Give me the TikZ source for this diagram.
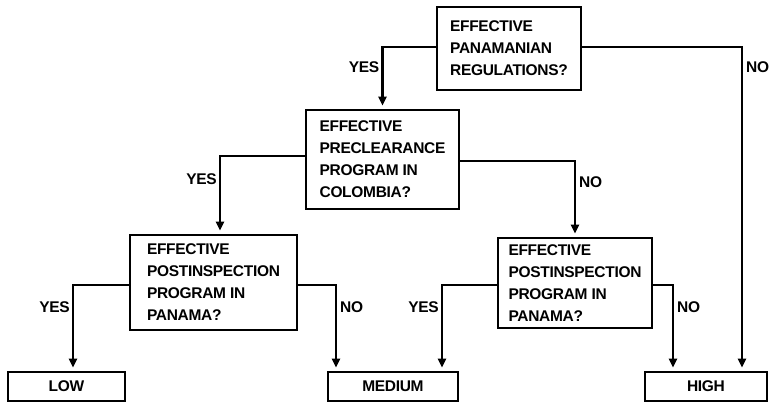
\documentclass[tikz,border=0pt]{standalone}
\usepackage{fontspec}
\setmainfont{Liberation Sans}[LetterSpace=-2.0]
\usetikzlibrary{arrows.meta}

\tikzset{
    boxfont/.style={font=\bfseries\fontsize{15.5}{22}\selectfont},
    question/.style={draw, line width=2.8pt, align=left, inner sep=0pt, boxfont},
    result/.style={draw, line width=2.8pt, minimum height=29pt, inner sep=0pt, boxfont},
    branch/.style={line width=2.4pt, -{Triangle[length=9pt,width=8pt]}, shorten >=3pt},
    yes/.style={anchor=east, inner sep=2pt, boxfont},
    no/.style={anchor=west, inner sep=3pt, boxfont},
}

\begin{document}
\begin{tikzpicture}[x=1pt, y=-1pt]
    
    \useasboundingbox (0,0) rectangle (772,403);
    
    % questions
    \node[question, minimum width=144pt, minimum height=83pt] (reg) at (509,48.5)
        {EFFECTIVE\\PANAMANIAN\\REGULATIONS?};
    \node[question, minimum width=153pt, minimum height=99pt] (pre) at (382.5,159.5)
        {EFFECTIVE\\PRECLEARANCE\\PROGRAM IN\\COLOMBIA?};
    \node[question, minimum width=167pt, minimum height=95pt] (postL) at (213.5,282.5)
        {EFFECTIVE\\POSTINSPECTION\\PROGRAM IN\\PANAMA?};
    \node[question, minimum width=154pt, minimum height=90pt] (postR) at (575,283)
        {EFFECTIVE\\POSTINSPECTION\\PROGRAM IN\\PANAMA?};
    
    % outcomes
    \node[result, minimum width=117pt] (low) at (66.5,386.5) {LOW};
    \node[result, minimum width=130pt] (medium) at (393,386.5) {MEDIUM};
    \node[result, minimum width=122pt] (high) at (706,386.5) {HIGH};
    
    \draw[branch] ([yshift=1.5pt]reg.west) -| node[yes, pos=0.66] {YES} (pre.north);
    \draw[branch] ([yshift=1.5pt]reg.east) -| node[no, pos=0.531] {NO} ([xshift=36pt]high.north);
    
    \draw[branch] ([yshift=3.5pt]pre.west) -| node[yes, pos=0.65] {YES} ([xshift=6.5pt]postL.north);
    \draw[branch] ([yshift=-1.5pt]pre.east) -| node[no, pos=0.64] {NO} (postR.north);
    
    \draw[branch] ([yshift=-2.5pt]postL.west) -| node[yes, pos=0.63] {YES} ([xshift=6.5pt]low.north);
    \draw[branch] ([yshift=-2.5pt]postL.east) -| node[no, pos=0.63] {NO} ([xshift=-57pt]medium.north);
    
    \draw[branch] ([yshift=-2pt]postR.west) -| node[yes, pos=0.63] {YES} ([xshift=49pt]medium.north);
    \draw[branch] ([yshift=-2pt]postR.east) -| node[no, pos=0.63] {NO} ([xshift=-33pt]high.north);
    
\end{tikzpicture}
\end{document}
